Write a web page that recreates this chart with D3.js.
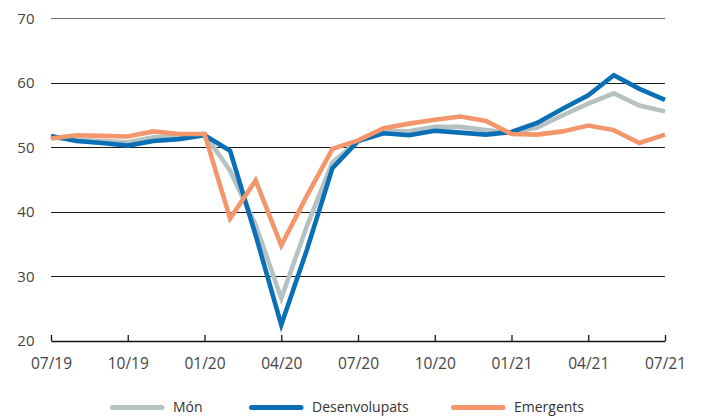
<!DOCTYPE html>
<html>
<head>
<meta charset="utf-8">
<script src="https://cdn.jsdelivr.net/npm/d3@7/dist/d3.min.js"></script>
<style>
  html, body { margin: 0; padding: 0; background: #fff; }
  svg { display: block; font-family: "Open Sans", sans-serif; }
</style>
</head>
<body>
<svg id="chart" width="702" height="417"></svg>
<script>
const months = ["07/19","08/19","09/19","10/19","11/19","12/19","01/20","02/20","03/20","04/20","05/20","06/20","07/20","08/20","09/20","10/20","11/20","12/20","01/21","02/21","03/21","04/21","05/21","06/21","07/21"];
const tickLabels = ["07/19","10/19","01/20","04/20","07/20","10/20","01/21","04/21","07/21"];
const yTicks = [20, 30, 40, 50, 60, 70];
const seriesNames = ["Món", "Desenvolupats", "Emergents"];
const mon = [51.6, 51.2, 51.0, 50.8, 51.6, 51.8, 52.1, 46.4, 38.0, 26.6, 37.8, 47.7, 51.0, 52.6, 52.5, 53.2, 53.2, 52.7, 52.3, 53.1, 55.0, 56.8, 58.4, 56.5, 55.6];
const desenvolupats = [51.8, 51.0, 50.7, 50.3, 51.0, 51.3, 51.9, 49.5, 36.4, 22.5, 34.1, 46.8, 51.0, 52.2, 51.9, 52.6, 52.3, 52.0, 52.4, 53.8, 56.0, 58.1, 61.2, 59.1, 57.4];
const emergents = [51.4, 51.9, 51.8, 51.7, 52.5, 52.1, 52.1, 39.0, 44.9, 34.8, 42.5, 49.8, 51.1, 53.0, 53.7, 54.3, 54.8, 54.1, 52.1, 52.0, 52.5, 53.4, 52.7, 50.7, 52.0];

const colors = ["#b6c1c2", "#0a6fb5", "#f4966b"];
const data = [mon, desenvolupats, emergents];

const svg = d3.select("#chart");
const mLeft = 51, mRight = 665, mTop = 18.5, mBottom = 341;

const x = d3.scalePoint().domain(months).range([mLeft, mRight]);
const y = d3.scaleLinear().domain([20, 70]).range([mBottom, mTop]);

// gridlines
svg.append("g").attr("shape-rendering", "crispEdges")
  .selectAll("line").data(yTicks.filter(t => t > 20)).enter().append("line")
  .attr("x1", mLeft).attr("x2", mRight)
  .attr("y1", d => y(d)).attr("y2", d => y(d))
  .attr("stroke", d => d === 70 ? "#6f6f6f" : "#1a1a1a")
  .attr("stroke-width", d => d === 70 ? 1.5 : 1);

// y labels
svg.append("g").selectAll("text").data(yTicks).enter().append("text")
  .attr("x", 34.5).attr("y", d => y(d)).attr("dy", "0.36em")
  .attr("text-anchor", "end")
  .attr("font-size", 15).attr("fill", "#444")
  .text(d => d);

// x axis
const xAxis = d3.axisBottom(x).tickValues(tickLabels).tickSize(-6).tickPadding(16.5).tickSizeOuter(0);
const gx = svg.append("g").attr("transform", `translate(0,${mBottom})`).call(xAxis);
gx.select(".domain").attr("stroke", "#111").attr("stroke-width", 1.6);
gx.selectAll(".tick line").attr("stroke", "#111").attr("stroke-width", 1.3);
gx.selectAll(".tick text").attr("font-size", 15.5).attr("fill", "#444").attr("font-family", "Open Sans, sans-serif");

// lines
const line = d3.line().x((d, i) => x(months[i])).y(d => y(d));
svg.append("g").selectAll("path").data(data).enter().append("path")
  .attr("d", d => line(d))
  .attr("fill", "none")
  .attr("stroke", (d, i) => colors[i])
  .attr("stroke-width", 4.6)
  .attr("stroke-linejoin", "miter")
  .attr("stroke-miterlimit", 10);

// legend
const legendX = [110, 249, 451];
const lg = svg.append("g").selectAll("g").data(seriesNames).enter().append("g")
  .attr("transform", (d, i) => `translate(${legendX[i]},407.5)`);
lg.append("line").attr("x1", 2.5).attr("x2", 52).attr("y1", 0).attr("y2", 0)
  .attr("stroke", (d, i) => colors[i]).attr("stroke-width", 5).attr("stroke-linecap", "round");
lg.append("text").attr("x", 63).attr("y", 0).attr("dy", "0.35em")
  .attr("font-size", 14).attr("fill", "#333").text(d => d);
</script>
</body>
</html>
